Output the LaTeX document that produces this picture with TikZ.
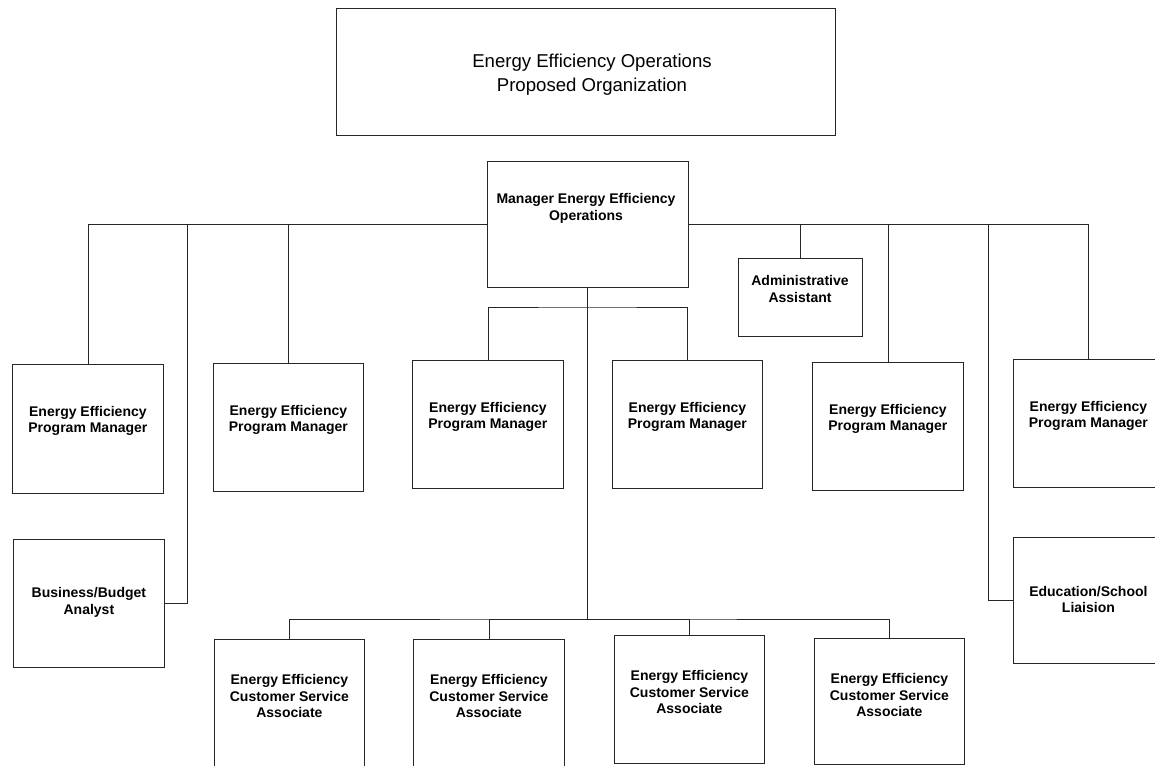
\documentclass[tikz,border=0pt]{standalone}
\usepackage{fontspec}
\setmainfont{Liberation Sans}
\begin{document}
\begin{tikzpicture}[x=1pt,y=-1pt,
  box/.style={draw=black!85, line width=0.8pt, inner sep=0pt, anchor=north west},
  lbl/.style={align=center, inner sep=0pt, font=\fontsize{14}{16.8}\selectfont\bfseries},
  ttl/.style={align=center, inner sep=0pt, font=\fontsize{18.6}{24}\selectfont},
  wire/.style={draw=black!85, line width=0.8pt}]
\useasboundingbox (0,0) rectangle (1155,765);
% boxes
\node[box, minimum width=499, minimum height=127] (title) at (336,8) {};
\node[box, minimum width=201, minimum height=126] (mgr) at (486.5,161) {};
\node[box, minimum width=124, minimum height=78] (admin) at (738,258) {};
\node[box, minimum width=151, minimum height=129] (pm1) at (12,364) {};
\node[box, minimum width=150, minimum height=128] (pm2) at (213,363) {};
\node[box, minimum width=151, minimum height=128] (pm3) at (412,360) {};
\node[box, minimum width=150, minimum height=128] (pm4) at (612,360) {};
\node[box, minimum width=151, minimum height=128] (pm5) at (812,362) {};
\node[box, minimum width=150, minimum height=128] (pm6) at (1013,359) {};
\node[box, minimum width=151, minimum height=128] (ba) at (13,539) {};
\node[box, minimum width=150, minimum height=126] (edu) at (1013,537) {};
\node[box, minimum width=150, minimum height=150] (csa1) at (214,639) {};
\node[box, minimum width=151, minimum height=150] (csa2) at (413,639) {};
\node[box, minimum width=150, minimum height=128] (csa3) at (614,635) {};
\node[box, minimum width=150, minimum height=126] (csa4) at (814,638) {};
% texts
\node[ttl] (titlet) at (592,75) {Energy Efficiency Operations\\Proposed Organization};
\node[lbl] (mgrt) at (586,208) {Manager Energy Efficiency\\Operations};
\node[lbl] (admint) at (800,289) {Administrative\\Assistant};
\foreach \p in {pm1,pm2,pm3,pm4,pm5,pm6}{
  \node[lbl] (\p t) at ([yshift=-57pt]\p.north) {Energy Efficiency\\Program Manager};
}
\node[lbl] (bat) at ([yshift=1pt]ba.center) {Business/Budget\\Analyst};
\node[lbl] (edut) at ([yshift=1pt]edu.center) {Education/School\\Liaision};
\foreach \c in {csa1,csa2,csa3,csa4}{
  \node[lbl] (\c t) at ([yshift=-57pt]\c.north) {Energy Efficiency\\Customer Service\\Associate};
}
% connector junctions
\coordinate (jl) at (187,224);
\coordinate (jr) at (988,224);
\coordinate (b1) at (mgr.south |- 0,307);
\coordinate (b2) at (mgr.south |- 0,619);
% connectors
\draw[wire] (mgr.west) -| (pm1.north);
\draw[wire] (mgr.west) -| (pm2.north);
\draw[wire] (ba.east) -| (jl);
\draw[wire] (mgr.east) -| (pm6.north);
\draw[wire] (mgr.east) -| (admin.north);
\draw[wire] (mgr.east) -| (pm5.north);
\draw[wire] (edu.west) -| (jr);
\draw[wire] (mgr.south) -- (b2);
\draw[wire] (pm3.north) |- (b1) -| (pm4.north);
\draw[wire] (csa1.north) |- (b2) -| (csa4.north);
\draw[wire] (csa2.north) |- (b2);
\draw[wire] (csa3.north) |- (b2);
\end{tikzpicture}
\end{document}
